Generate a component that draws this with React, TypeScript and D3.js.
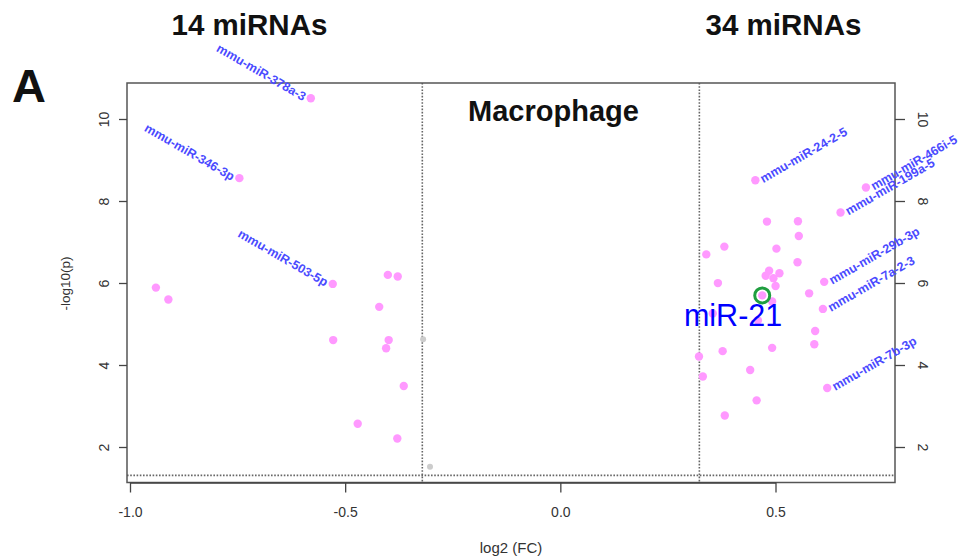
import React from "react";
import * as d3 from "d3";

// ---- data ----
const downFC = [-0.581, -0.747, -0.941, -0.912, -0.530, -0.402, -0.379, -0.422, -0.529, -0.400, -0.406, -0.365, -0.472, -0.380];
const downP = [10.52, 8.57, 5.90, 5.61, 5.99, 6.21, 6.17, 5.43, 4.62, 4.62, 4.42, 3.50, 2.58, 2.22];
const downNames = ["mmu-miR-378a-3", "mmu-miR-346-3p", "", "", "mmu-miR-503-5p", "", "", "", "", "", "", "", "", ""];

const upFC = [0.452, 0.709, 0.650, 0.479, 0.551, 0.553, 0.380, 0.338, 0.501, 0.550, 0.484, 0.476, 0.508, 0.494, 0.499, 0.365, 0.612, 0.577, 0.468, 0.491, 0.609, 0.591, 0.589, 0.491, 0.376, 0.321, 0.440, 0.330, 0.619, 0.455, 0.381, 0.353, 0.458];
const upP = [8.52, 8.34, 7.73, 7.51, 7.52, 7.16, 6.90, 6.71, 6.85, 6.52, 6.31, 6.19, 6.25, 6.13, 5.94, 6.01, 6.04, 5.76, 5.71, 5.56, 5.38, 4.84, 4.52, 4.43, 4.35, 4.22, 3.89, 3.73, 3.45, 3.15, 2.78, 5.27, 5.10];
const upNames = ["mmu-miR-24-2-5", "mmu-miR-466i-5", "mmu-miR-199a-5", "", "", "", "", "", "", "", "", "", "", "", "", "", "mmu-miR-29b-3p", "", "", "", "mmu-miR-7a-2-3", "", "", "", "", "", "", "", "mmu-miR-7b-3p", "", "", "", ""];

const nsFC = [-0.320, -0.304];
const nsP = [4.64, 1.53];

const highlightName = "miR-21";
const highlightFC = 0.468;
const highlightP = 5.71;

const xTicks = [-1.0, -0.5, 0.0, 0.5];
const yTicks = [2, 4, 6, 8, 10];
const fcCut = 0.3219;
const pCut = 1.32;

const leftCount = "14 miRNAs";
const rightCount = "34 miRNAs";
const panelLetter = "A";
const panelTitle = "Macrophage";
const xTitle = "log2 (FC)";
const yTitle = "-log10(p)";

// ---- layout ----
const W = 968;
const H = 559;
const box = { left: 127, right: 895, top: 83, bottom: 482.5 };
const FONT = "'Liberation Sans', Arial, Helvetica, sans-serif";
const PINK = "#ff99ff";
const LABEL = "#4a4aff";
const AXIS = "#444";

const fmtTick = (t: number) => d3.format(".1f")(t).replace("\u2212", "-");

export default function App() {
  const x = d3.scaleLinear().domain([-1.0, 0.5]).range([130.5, 776]);
  const y = d3.scaleLinear().domain([2, 10]).range([447.5, 119.5]);

  const down = downFC.map((v, i) => ({ fc: v, p: downP[i], name: downNames[i] }));
  const up = upFC.map((v, i) => ({ fc: v, p: upP[i], name: upNames[i] }));
  const ns = nsFC.map((v, i) => ({ fc: v, p: nsP[i] }));

  const hx = x(highlightFC);
  const hy = y(highlightP);

  return (
    <svg
      width={W}
      height={H}
      style={{ position: "absolute", left: 0, top: 0, display: "block", background: "#fff" }}
      fontFamily={FONT}
    >
      <rect x={0} y={0} width={W} height={H} fill="#fff" />

      {/* titles */}
      <text x={249.5} y={35} textAnchor="middle" fontSize={29.5} fontWeight="bold" fill="#111">{leftCount}</text>
      <text x={783.5} y={35} textAnchor="middle" fontSize={29.5} fontWeight="bold" fill="#111">{rightCount}</text>
      <text x={12} y={102} fontSize={47} fontWeight="bold" fill="#111">{panelLetter}</text>
      <text x={553.5} y={121} textAnchor="middle" fontSize={29} fontWeight="bold" fill="#111">{panelTitle}</text>

      {/* threshold lines */}
      <line x1={x(-fcCut)} x2={x(-fcCut)} y1={box.top} y2={box.bottom} stroke="#666" strokeWidth={1.6} strokeDasharray="1.6,1.6" />
      <line x1={x(fcCut)} x2={x(fcCut)} y1={box.top} y2={box.bottom} stroke="#666" strokeWidth={1.6} strokeDasharray="1.6,1.6" />
      <line x1={box.left} x2={box.right} y1={y(pCut)} y2={y(pCut)} stroke="#666" strokeWidth={1.6} strokeDasharray="1.6,1.6" />

      {/* box */}
      <rect x={box.left} y={box.top} width={box.right - box.left} height={box.bottom - box.top} fill="none" stroke="#555" strokeWidth={1.5} />

      {/* x axis */}
      <line x1={x(-1)} x2={x(0.5)} y1={box.bottom + 0.5} y2={box.bottom + 0.5} stroke={AXIS} strokeWidth={1.3} />
      {xTicks.map((t) => (
        <g key={"xt" + t}>
          <line x1={x(t)} x2={x(t)} y1={box.bottom} y2={box.bottom + 10} stroke={AXIS} strokeWidth={1.3} />
          <text x={x(t)} y={517} textAnchor="middle" fontSize={14} fill="#333">{fmtTick(t)}</text>
        </g>
      ))}
      <text x={(box.left + box.right) / 2} y={553} textAnchor="middle" fontSize={15} fill="#333">{xTitle}</text>

      {/* left y axis */}
      {yTicks.map((t) => (
        <g key={"yl" + t}>
          <line x1={box.left - 8} x2={box.left} y1={y(t)} y2={y(t)} stroke={AXIS} strokeWidth={1.3} />
          <text transform={`translate(109,${y(t)}) rotate(-90)`} textAnchor="middle" fontSize={14} fill="#333">{t}</text>
        </g>
      ))}
      <text transform={`translate(70,${y(6)}) rotate(-90)`} textAnchor="middle" fontSize={13.5} fill="#333">{yTitle}</text>

      {/* right y axis */}
      {yTicks.map((t) => (
        <g key={"yr" + t}>
          <line x1={box.right} x2={box.right + 10} y1={y(t)} y2={y(t)} stroke={AXIS} strokeWidth={1.3} />
          <text transform={`translate(918,${y(t)}) rotate(90)`} textAnchor="middle" fontSize={14} fill="#333">{t}</text>
        </g>
      ))}

      {/* non-significant points */}
      {ns.map((d, i) => (
        <circle key={"ns" + i} cx={x(d.fc)} cy={y(d.p)} r={3} fill="#cccccc" />
      ))}

      {/* significant points */}
      {down.map((d, i) => (
        <circle key={"dn" + i} cx={x(d.fc)} cy={y(d.p)} r={4.2} fill={PINK} />
      ))}
      {up.map((d, i) => (
        <circle key={"up" + i} cx={x(d.fc)} cy={y(d.p)} r={4.2} fill={PINK} />
      ))}

      {/* labels */}
      {down.filter((d) => d.name).map((d) => (
        <text
          key={"ld" + d.name}
          transform={`translate(${x(d.fc) - 8},${y(d.p) + 3}) rotate(30)`}
          textAnchor="end"
          fontSize={12.5}
          fontWeight="bold"
          fill={LABEL}
        >
          {d.name}
        </text>
      ))}
      {up.filter((d) => d.name).map((d) => (
        <text
          key={"lu" + d.name}
          transform={`translate(${x(d.fc) + 8},${y(d.p) + 3}) rotate(-30)`}
          textAnchor="start"
          fontSize={12.5}
          fontWeight="bold"
          fill={LABEL}
        >
          {d.name}
        </text>
      ))}

      {/* highlight */}
      <circle cx={hx} cy={hy} r={7.5} fill="none" stroke="#1f9e3f" strokeWidth={3} />
      <text x={hx + 20} y={hy + 31} textAnchor="end" fontSize={30.5} fill="#0000ff">{highlightName}</text>
    </svg>
  );
}
